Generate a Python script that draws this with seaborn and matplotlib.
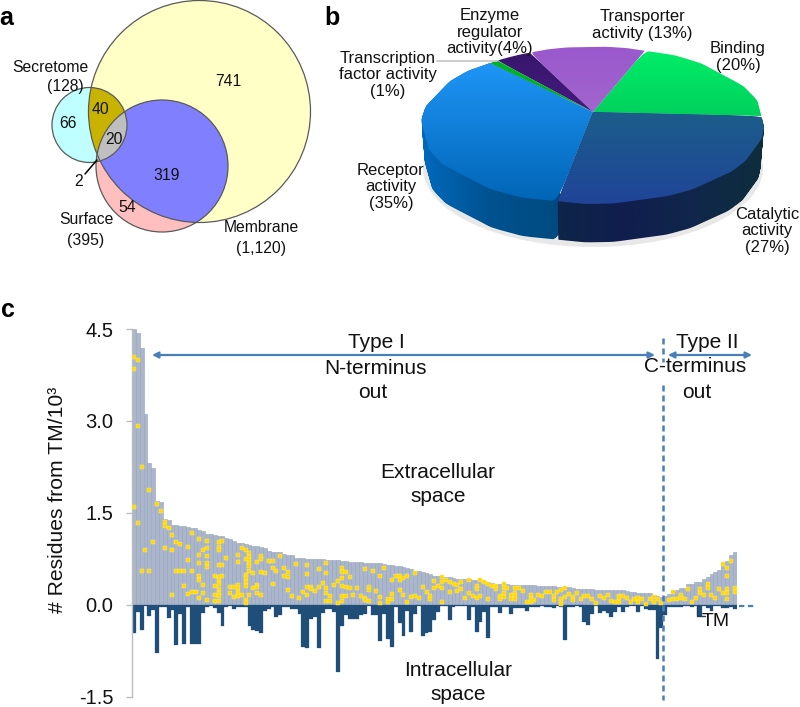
import numpy as np
import pandas as pd
import matplotlib
matplotlib.use("Agg")
import matplotlib.pyplot as plt
import seaborn as sns
from matplotlib.colors import LinearSegmentedColormap
from matplotlib.patches import Circle, Ellipse, PathPatch
from matplotlib.path import Path
from matplotlib.transforms import Affine2D, Transform

# panel b
pie_labels = ["Binding", "Transporter", "Enzyme", "TF", "Receptor", "Catalytic"]
pie_shares = [20, 13, 4, 1, 35, 27]

# panel c, one value per protein group
extra = [4.5, 4.43, 4.19, 3.12, 2.31, 2.23, 1.69, 1.68, 1.41, 1.39,
         1.31, 1.30, 1.29, 1.28, 1.27, 1.26, 1.25, 1.22, 1.20, 1.16,
         1.15, 1.14, 1.13, 1.12, 1.10, 1.07, 1.05, 1.01, 1.01, 1.00,
         .98, .96, .96, .95, .93, .88, .87, .86, .86, .83,
         .82, .82, .77, .76, .76, .75, .75, .75, .75, .75,
         .74, .74, .73, .73, .72, .71, .70, .70, .70, .70,
         .69, .69, .69, .68, .68, .67, .66, .65, .64, .63,
         .62, .61, .59, .56, .55, .53, .52, .50, .48, .47,
         .46, .45, .45, .44, .43, .43, .42, .42, .41, .40,
         .40, .39, .37, .36, .35, .35, .34, .34, .33, .33,
         .32, .32, .32, .32, .32, .31, .31, .31, .31, .31,
         .30, .30, .30, .29, .28, .26, .26, .26, .26, .26,
         .25, .25, .25, .25, .25, .25, .24, .24, .23, .22,
         .21, .20, .20, .19, .19, .17, .15, .13, .15, .18,
         .21, .25, .27, .28, .35, .35, .37, .37, .42, .45,
         .50, .54, .57, .70, .72, .81, .86]
intra = [-.46, -.11, -.40, -.02, -.18, -.08, -.78, -.04, -.04, -.22,
         -.08, -.66, -.14, -.64, -.04, -.64, -.64, -.63, -.13, -.03,
         -.02, -.05, -.13, -.35, -.03, -.02, -.07, -.04, -.03, -.03,
         -.35, -.41, -.42, -.45, -.09, -.07, -.03, -.20, -.16, -.04,
         -.03, -.06, -.06, -.14, -.69, -.70, -.23, -.19, -.70, -.13,
         -.06, -.07, -.11, -1.1, -.35, -.16, -.23, -.23, -.23, -.16,
         -.14, -.02, -.16, -.16, -.59, -.14, -.56, -.69, -.03, -.30,
         -.51, -.09, -.44, -.14, -.02, -.51, -.45, -.44, -.25, -.11,
         -.02, -.02, -.25, -.03, -.02, -.02, -.02, -.25, -.04, -.44,
         -.27, -.11, -.53, -.04, -.04, -.13, -.04, -.04, -.15, -.05,
         -.05, -.05, -.09, -.04, -.03, -.03, -.02, -.04, -.03, -.05,
         -.02, -.04, -.57, -.04, -.03, -.02, -.03, -.27, -.33, -.14,
         -.02, -.125, -.10, -.125, -.20, -.11, -.03, -.11, -.03, -.02,
         -.02, -.11, -.02, -.07, -.08, -.08, -.88, -.38, -.16, -.04,
         -.03, -.04, -.04, -.02, -.02, -.04, -.02, -.18, -.02, -.05,
         -.10, -.02, -.02, -.05, -.05, -.04, -.06]
dots = [(0, 4.04), (0, 3.85), (0, 1.59), (1, 3.99), (1, 2.92), (1, 1.34), (2, 2.25), (2, .55), (3, .89),
        (4, 1.88), (4, .55), (5, 1.03), (6, 1.64), (7, 1.54), (8, 1.36), (8, 1.29), (8, .93), (9, 1.26),
        (10, 1.14), (10, .90), (10, .16), (11, 1.03), (11, .56), (12, .99), (12, .56), (13, .56), (13, .31),
        (14, .94), (14, .74), (14, .18), (15, 1.18), (15, .56), (15, .21), (16, .22),
        (17, 1.08), (17, .81), (17, .68), (17, .47), (17, .41), (17, .11), (18, .90), (18, .32), (18, .19),
        (19, 1.04), (19, .93), (19, .80), (19, .68), (19, .62), (19, .08),
        (21, .47), (21, .31), (21, .17), (21, .06),
        (22, 1.03), (22, .94), (22, .89), (22, .65), (22, .46), (22, .41), (22, .35), (22, .26), (22, .20), (22, .15), (22, .06),
        (23, 1.05), (23, .65), (23, .47), (24, .76), (25, .30), (25, .19), (26, .29), (26, .13),
        (27, .82), (27, .70), (27, .32), (27, .27), (27, .22), (27, .14), (28, .93), (28, .16),
        (29, .90), (29, .75), (29, .49), (29, .44), (29, .38), (29, .31), (29, .08), (29, .03),
        (30, .84), (30, .79), (30, .74), (30, .68), (30, .63), (30, .56), (30, .16), (31, .52), (31, .27),
        (32, .70), (32, .33), (32, .30), (32, .19), (33, .80), (33, .75), (33, .54), (33, .16), (34, .52),
        (35, .72), (36, .72), (36, .61), (36, .35), (37, .56), (38, .80), (39, .61), (39, .48),
        (40, .54), (40, .46), (40, .25), (41, .14), (42, .67), (43, .11), (44, .21),
        (45, .66), (45, .51), (45, .30), (45, .16), (46, .30), (46, .26), (47, .23), (48, .58), (48, .30),
        (49, .36), (50, .69), (50, .52), (50, .27), (50, .20), (50, .07), (51, .15), (51, .07), (52, .32),
        (53, .39), (53, .03), (54, .60), (54, .54), (54, .44), (54, .31), (54, .15), (54, .07),
        (55, .53), (55, .29), (55, .15), (56, .45), (56, .27), (57, .16), (58, .28), (59, .14),
        (60, .58), (60, .12), (60, .08), (61, .29), (61, .25), (61, .07), (62, .56), (63, .23),
        (64, .47), (64, .13), (64, .03), (65, .60), (66, .09), (66, .05), (67, .41), (67, .18), (67, .09),
        (68, .48), (69, .47), (69, .41), (69, .25), (70, .44), (70, .16), (71, .47), (71, .05), (72, .13),
        (73, .52), (73, .15), (74, .12), (75, .29), (76, .22), (77, .14), (77, .10), (78, .39), (78, .27),
        (79, .31), (80, .45), (80, .38), (80, .27), (80, .05), (81, .41), (82, .37), (82, .21), (83, .35),
        (84, .32), (84, .23), (85, .38), (85, .26), (86, .11), (87, .41), (87, .19), (88, .15),
        (89, .31), (89, .26), (89, .12), (90, .40), (90, .15), (91, .37), (92, .35), (92, .10), (93, .31),
        (94, .31), (94, .26), (95, .14), (95, .09), (96, .34), (96, .28), (96, .20), (96, .13), (97, .27),
        (98, .16), (98, .09), (99, .28), (99, .20), (99, .15), (99, .09), (100, .27), (101, .23), (102, .05),
        (103, .16), (103, .09), (103, .05), (104, .08), (105, .17), (106, .15), (107, .22), (108, .21),
        (109, .15), (109, .08), (110, .21), (111, .25), (111, .10), (111, .05), (111, .02), (112, .27), (112, .13),
        (113, .18), (114, .13), (114, .08), (115, .19), (116, .10), (117, .14), (118, .15), (119, .10),
        (120, .04), (121, .15), (122, .11), (123, .17), (124, .07), (125, .05), (126, .15), (126, .11), (126, .05),
        (127, .15), (128, .12), (129, .05), (130, .09), (131, .11), (131, .05), (132, .09), (133, .02),
        (134, .09), (135, .13), (135, .05), (136, .10), (137, .03), (139, .08), (140, .22), (140, .10),
        (141, .10), (142, .16), (142, .11), (143, .10), (144, .26), (145, .05), (146, .11), (147, .26), (147, .19),
        (148, .16), (149, .35), (149, .27), (150, .17), (151, .12), (152, .26), (153, .67), (153, .19),
        (154, .60), (154, .48), (154, .26), (154, .20), (154, .10), (155, .72), (156, .27), (156, .22)]
y_ticks = [4.5, 3.0, 1.5, 0.0, -1.5]

sns.set_theme(style="white")
plt.rcParams["font.family"] = ["Liberation Sans", "DejaVu Sans"]
W, H = 800, 707
fig = plt.figure(figsize=(W / 100, H / 100), dpi=100)

# bar chart, axes placed by pixel box
ax = fig.add_axes([132 / W, 1 - 697 / H, (736.5 - 132) / W, (697 - 329) / H])
df = pd.DataFrame({"bar": range(len(extra)), "extra": extra, "intra": intra})
sns.barplot(data=df, x="bar", y="extra", ax=ax, color="#A9B6CB", saturation=1, width=1,
            edgecolor="#98A4B8", linewidth=0.4)
sns.barplot(data=df, x="bar", y="intra", ax=ax, color="#1F4E79", saturation=1, width=1,
            edgecolor="#1F4E79", linewidth=0.2)
dot_df = pd.DataFrame(dots, columns=["bar", "val"])
sns.scatterplot(data=dot_df, x="bar", y="val", ax=ax, color="#FFD800", marker="s", s=9,
                edgecolor="#FFEB8A", linewidth=0.3, zorder=5)
ax.set_xlim(-0.5, len(extra) - 0.5)
ax.set_ylim(-1.5, 4.5)
ax.set_yticks(y_ticks)
ax.set_yticklabels([f"{t:.1f}" for t in y_ticks], fontsize=14.5, color="#111111")
ax.set_xticks([])
ax.set_xlabel("")
ax.set_ylabel("")
ax.tick_params(axis="y", left=True, length=4.5, width=1, color="#BDBDBD", pad=9)
sns.despine(ax=ax, bottom=True)
ax.spines["left"].set_color("#BDBDBD")
ax.spines["left"].set_linewidth(1)
ax.patch.set_alpha(0)

# everything else goes on a canvas in pixel coordinates
cv = fig.add_axes([0, 0, 1, 1], zorder=3)


class Tilt(Transform):
    # perspective view of the unit-circle pie, apex sits above the ellipse centre
    input_dims = output_dims = 2

    def __init__(self, ax0=593.0, ay0=112.0, a=75.8, c=167.1, k=1 / 6):
        super().__init__()
        self.ax0, self.ay0, self.a, self.c, self.k = ax0, ay0, a, c, k

    def transform_non_affine(self, xy):
        x, y = xy[:, 0], xy[:, 1]
        d = 1 + self.k * y
        return np.column_stack([self.ax0 + self.c * x / d, self.ay0 - self.a * y / d])


tilt = Tilt()
wedges, _ = cv.pie(pie_shares, startangle=-3, counterclock=True, radius=1, colors=["white"] * 6)
wedge_of = dict(zip(pie_labels, wedges))


def shifted(w, dy, s=1.0):
    tr = tilt + Affine2D().translate(-593, -125).scale(s).translate(593, 125 + dy)
    return tr.transform_path(w.get_path().interpolated(6))


def gradient(cols, box, horizontal, clip):
    cmap = LinearSegmentedColormap.from_list("g", cols)
    g = np.linspace(0, 1, 256)
    g = g[None, :] if horizontal else g[:, None]
    im = cv.imshow(g, cmap=cmap, extent=(box[0], box[1], box[3], box[2]), origin="upper",
                   aspect="auto", zorder=2)
    im.set_clip_path(clip)


cv.add_patch(Ellipse((593, 168), 340, 158, facecolor="#E8E8E8", edgecolor="none", zorder=1))
rims = {"Receptor": (["#0069BC", "#00528F", "#004A80"], (424, 558)),
        "Catalytic": (["#0E2548", "#101E4E", "#10274A", "#0D2E3C"], (558, 763))}
depths = np.linspace(0, 40, 41)
for name, (cols, xr) in rims.items():
    path = Path.make_compound_path(*[shifted(wedge_of[name], d, 1 - 0.02 * d / 40) for d in depths])
    clip = PathPatch(path, transform=cv.transData)
    gradient(cols, (xr[0] - 2, xr[1] + 2, 40, 250), True, clip)

tops = {"Binding": ["#00F068", "#00A850"], "Transporter": ["#9A58CC", "#AC78D2"],
        "Enzyme": ["#35166A", "#5E1F9C"], "TF": ["#00B428", "#00A020"],
        "Receptor": ["#229CFF", "#0064B4"], "Catalytic": ["#18707F", "#204499"]}
for name, w in wedge_of.items():
    w.set_visible(False)
    p = PathPatch(tilt.transform_path(w.get_path().interpolated(6)), transform=cv.transData)
    gradient(tops[name], (420, 767, 45, 205), False, p)

cv.plot([437, 497], [61, 61], color="#C4C4C4", lw=1.2, zorder=2.5)

# venn, panel a
membrane = (199.5, 111.5, 111)
surface = (162, 166, 66)
secretome = (89.5, 125, 37.5)


def circ(c, **kw):
    return Circle(c[:2], c[2], transform=cv.transData, **kw)


for c, col in [(membrane, "#FFFFC6"), (surface, "#FFBFBF"), (secretome, "#BFFFFF")]:
    cv.add_patch(circ(c, facecolor=col, edgecolor="none", zorder=1))
for c, lim, col in [(surface, membrane, "#8080FF"), (secretome, membrane, "#C8B400"), (surface, secretome, "#BFBFBF")]:
    patch = cv.add_patch(circ(c, facecolor=col, edgecolor="none", zorder=1.2))
    patch.set_clip_path(circ(lim))
for c in (membrane, surface, secretome):
    cv.add_patch(circ(c, fill=False, edgecolor="#5A5A5A", lw=0.9, zorder=1.5))
cv.plot([85, 97], [174, 160], color="black", lw=1.1, zorder=2)

fs = 11.3
for x, y, s in [(50, 67, "Secretome"), (65, 86, "(128)"), (68, 124, "66"), (100, 110, "40"), (114, 139, "20"),
                (167, 176, "319"), (228, 82, "741"), (127, 208, "54"), (79, 181, "2"), (86, 220, "Surface"),
                (86, 240, "(395)"), (261, 228, "Membrane"), (261, 248, "(1,120)")]:
    cv.text(x, y, s, fontsize=fs, ha="center", va="center", color="#111111", zorder=6)

for x, y, s in [(490, 32, "Enzyme\nregulator\nactivity(4%)"), (642, 25, "Transporter\nactivity (13%)"),
                (738, 57, "Binding\n(20%)"), (388, 75, "Transcription\nfactor activity\n(1%)"),
                (391, 187, "Receptor\nactivity\n(35%)"), (767, 231, "Catalytic\nactivity\n(27%)")]:
    cv.text(x, y, s, fontsize=12, ha="center", va="center", linespacing=1.13, color="#111111", zorder=6)

for x, y, s in [(6, 18, "a"), (332, 18, "b"), (8, 310, "c")]:
    cv.text(x, y, s, fontsize=18, fontweight="bold", ha="center", va="center", color="black", zorder=6)

# panel c annotations
blue = "#4A7EBB"
arrow = dict(arrowstyle="<|-|>", color=blue, lw=1.6, mutation_scale=9, shrinkA=0, shrinkB=0)
cv.annotate("", xy=(152, 355), xytext=(655, 355), arrowprops=arrow, zorder=6)
cv.annotate("", xy=(668, 355), xytext=(752, 355), arrowprops=arrow, zorder=6)
cv.plot([663, 663, np.nan, 663, 663], [338, 362, np.nan, 385, 700], color=blue, lw=1.8, dashes=(2.4, 1.6), zorder=6)
cv.plot([739, 755], [606, 606], color=blue, lw=1.6, dashes=(2.4, 1.6), zorder=6)
cv.plot([697, 697, 705], [606, 616, 616], color="#1F3B57", lw=1, zorder=6)

for x, y, s in [(376, 343, "Type I"), (375, 368, "N-terminus"), (373, 393, "out"),
                (707, 342, "Type II"), (695, 367, "C-terminus"), (697, 393, "out"),
                (438, 472, "Extracellular"), (438, 497, "space"),
                (458, 670, "Intracellular"), (458, 695, "space")]:
    cv.text(x, y, s, fontsize=15, ha="center", va="center", color="#111111", zorder=6)
cv.text(716, 622, "TM", fontsize=14, ha="center", va="center", color="#111111", zorder=6)
cv.text(58, 500, "# Residues from TM/10³", fontsize=15.2, rotation=90, ha="center", va="center", color="#111111")

cv.set_aspect("auto")
cv.set_xlim(0, W)
cv.set_ylim(H, 0)
cv.set_axis_off()

fig.savefig("out.png", dpi=100)
plt.close(fig)
